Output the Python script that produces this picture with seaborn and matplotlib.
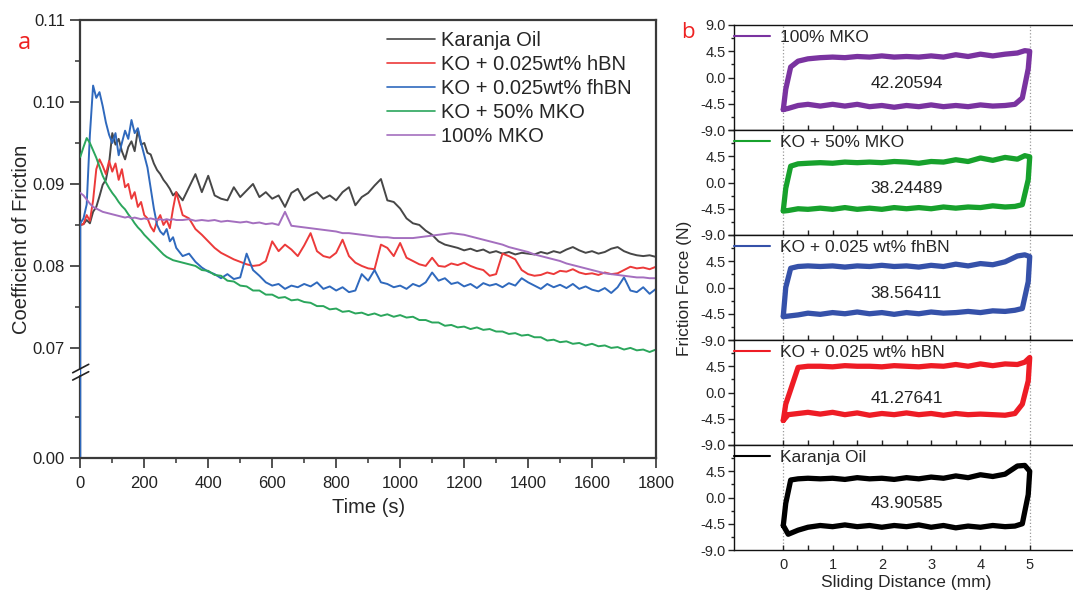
import numpy as np
import pandas as pd
import matplotlib
matplotlib.use("Agg")
import matplotlib.pyplot as plt
import seaborn as sns

# ---------------- Panel a data: coefficient of friction vs time ----------------
time_early = list(range(0, 301, 10))
time_late = list(range(320, 1801, 20))
time_s = time_early + time_late
time_fhbn = [0] + time_s   # fhBN trace starts with the vertical rise from 0 at t = 0

karanja = [
    .0850, .0851, .0856, .0852, .0866, .0872, .0885, .0899, .0905, .0925,
    .0962, .0948, .0955, .0940, .0930, .0945, .0952, .0940, .0966, .0948,
    .0950, .0938, .0936, .0925, .0917, .0912, .0905, .0900, .0894, .0886,
    .0890,
    .0880, .0896, .0912, .0890, .0910, .0886, .0882, .0880, .0896, .0884,
    .0892, .0900, .0884, .0890, .0882, .0886, .0872, .0889, .0894, .0880,
    .0886, .0890, .0882, .0886, .0880, .0890, .0896, .0874, .0884, .0889,
    .0898, .0906, .0880, .0878, .0870, .0858, .0852, .0850, .0843, .0838,
    .0830, .0826, .0824, .0822, .0819, .0821, .0818, .0820, .0816, .0818,
    .0815, .0817, .0814, .0816, .0815, .0814, .0817, .0815, .0818, .0816,
    .0820, .0823, .0819, .0816, .0818, .0815, .0817, .0821, .0823, .0818,
    .0815, .0813, .0812, .0813, .0811,
]
ko_hbn = [
    .0850, .0851, .0862, .0855, .0880, .0918, .0930, .0922, .0912, .0928,
    .0915, .0925, .0905, .0918, .0896, .0900, .0882, .0890, .0872, .0878,
    .0862, .0858, .0848, .0842, .0855, .0862, .0850, .0856, .0846, .0870,
    .0890,
    .0862, .0858, .0845, .0838, .0830, .0822, .0816, .0812, .0808, .0805,
    .0802, .0800, .0801, .0806, .0830, .0818, .0826, .0820, .0812, .0825,
    .0840, .0818, .0812, .0810, .0816, .0832, .0812, .0804, .0800, .0797,
    .0796, .0826, .0822, .0812, .0828, .0810, .0806, .0802, .0800, .0810,
    .0800, .0799, .0803, .0801, .0804, .0800, .0797, .0795, .0788, .0790,
    .0815, .0812, .0808, .0795, .0790, .0788, .0789, .0792, .0790, .0794,
    .0793, .0796, .0792, .0790, .0791, .0789, .0792, .0790, .0791, .0795,
    .0799, .0797, .0798, .0796, .0799,
]
ko_fhbn = [
    .0000,
    .0852, .0858, .0875, .0960, .1020, .1005, .1012, .0995, .0975, .0960,
    .0950, .0962, .0935, .0950, .0965, .0955, .0978, .0962, .0968, .0950,
    .0935, .0920, .0895, .0870, .0850, .0842, .0838, .0845, .0830, .0835,
    .0822,
    .0812, .0815, .0805, .0798, .0793, .0790, .0785, .0790, .0784, .0786,
    .0815, .0795, .0788, .0780, .0776, .0778, .0772, .0776, .0774, .0778,
    .0775, .0780, .0772, .0775, .0770, .0774, .0768, .0770, .0790, .0782,
    .0795, .0780, .0778, .0774, .0776, .0772, .0778, .0775, .0780, .0792,
    .0782, .0785, .0778, .0780, .0775, .0778, .0773, .0779, .0776, .0778,
    .0774, .0779, .0776, .0785, .0780, .0776, .0772, .0778, .0774, .0777,
    .0773, .0778, .0772, .0775, .0771, .0769, .0773, .0767, .0774, .0786,
    .0770, .0768, .0774, .0766, .0772,
]
ko_mko50 = [
    .0933, .0945, .0956, .0950, .0941, .0932, .0921, .0910, .0902, .0895,
    .0889, .0884, .0878, .0873, .0869, .0863, .0858, .0852, .0847, .0843,
    .0838, .0834, .0830, .0826, .0822, .0818, .0814, .0811, .0809, .0807,
    .0806,
    .0804, .0802, .0800, .0795, .0794, .0789, .0788, .0782, .0781, .0776,
    .0775, .0770, .0770, .0765, .0765, .0761, .0762, .0758, .0759, .0756,
    .0755, .0751, .0751, .0747, .0748, .0744, .0745, .0742, .0743, .0740,
    .0742, .0739, .0741, .0738, .0740, .0737, .0738, .0734, .0734, .0731,
    .0731, .0727, .0728, .0725, .0726, .0723, .0725, .0722, .0723, .0720,
    .0720, .0717, .0718, .0715, .0716, .0713, .0713, .0709, .0710, .0707,
    .0708, .0705, .0706, .0703, .0705, .0702, .0703, .0700, .0701, .0698,
    .0700, .0697, .0698, .0695, .0698,
]
mko100 = [
    .0889, .0886, .0881, .0876, .0872, .0870, .0868, .0866, .0865, .0864,
    .0863, .0862, .0861, .0860, .0859, .0860, .0858, .0859, .0858, .0857,
    .0858, .0857, .0858, .0857, .0856, .0857, .0856, .0857, .0856, .0857,
    .0856,
    .0856, .0857, .0855, .0856, .0855, .0856, .0854, .0855, .0854, .0853,
    .0854, .0852, .0853, .0851, .0852, .0850, .0866, .0849, .0848, .0847,
    .0846, .0845, .0844, .0843, .0842, .0840, .0840, .0839, .0838, .0837,
    .0836, .0835, .0835, .0834, .0834, .0834, .0834, .0835, .0836, .0837,
    .0838, .0839, .0840, .0839, .0838, .0836, .0834, .0832, .0830, .0828,
    .0826, .0823, .0821, .0819, .0817, .0814, .0812, .0810, .0808, .0806,
    .0803, .0801, .0799, .0797, .0795, .0793, .0791, .0790, .0789, .0788,
    .0787, .0786, .0786, .0785, .0785,
]
series_names = ["Karanja Oil", "KO + 0.025wt% hBN", "KO + 0.025wt% fhBN",
                "KO + 50% MKO", "100% MKO"]
series_times = [time_s, time_s, time_fhbn, time_s, time_s]
series_values = [karanja, ko_hbn, ko_fhbn, ko_mko50, mko100]
series_colors = ["#474747", "#ec3a3a", "#2f69bd", "#2ba65c", "#a46fbf"]

yticks_a = [0.00, 0.07, 0.08, 0.09, 0.10, 0.11]
ytick_labels_a = ["0.00", "0.07", "0.08", "0.09", "0.10", "0.11"]
xticks_a = list(range(0, 1801, 200))

# ---------------- Panel b data: friction force loops ----------------
dist_mm = [0.0, 0.05, 0.15, 0.3, 0.5, 0.75, 1.0, 1.25, 1.5, 1.75, 2.0, 2.25,
           2.5, 2.75, 3.0, 3.25, 3.5, 3.75, 4.0, 4.25, 4.5, 4.75, 4.9, 5.0,
           4.97, 4.85, 4.7, 4.5, 4.25, 4.0, 3.75, 3.5, 3.25, 3.0, 2.75, 2.5,
           2.25, 2.0, 1.75, 1.5, 1.25, 1.0, 0.75, 0.5, 0.3, 0.1, 0.0]
force_mko100 = [-5.5, -2.0, 1.8, 2.8, 3.2, 3.4, 3.5, 3.4, 3.6, 3.5, 3.7, 3.5,
                3.6, 3.5, 3.7, 3.5, 3.9, 3.6, 4.0, 3.7, 4.0, 4.2, 4.6, 4.5,
                1.5, -3.5, -4.6, -4.8, -4.9, -4.7, -5.0, -4.8, -5.0, -4.7, -5.0, -4.8,
                -5.1, -4.8, -5.0, -4.6, -4.9, -4.6, -4.9, -4.6, -4.8, -5.3, -5.5]
force_mko50 = [-4.8, -1.0, 2.8, 3.2, 3.3, 3.4, 3.3, 3.5, 3.4, 3.5, 3.4, 3.6,
               3.5, 3.3, 3.6, 3.5, 3.9, 3.6, 4.2, 3.8, 4.3, 4.0, 4.6, 4.4,
               0.5, -3.8, -4.1, -4.2, -4.0, -4.3, -4.2, -4.4, -4.2, -4.5, -4.3, -4.5,
               -4.3, -4.6, -4.4, -4.6, -4.3, -4.6, -4.4, -4.6, -4.5, -4.8, -4.9]
force_fhbn = [-4.9, 0.0, 3.3, 3.6, 3.7, 3.6, 3.7, 3.5, 3.7, 3.6, 3.8, 3.6,
              3.7, 3.5, 3.8, 3.6, 4.0, 3.7, 4.1, 3.9, 4.4, 5.4, 5.6, 5.3,
              1.0, -3.6, -3.9, -4.1, -4.0, -4.3, -4.1, -4.3, -4.4, -4.2, -4.5, -4.3,
              -4.6, -4.3, -4.5, -4.2, -4.5, -4.3, -4.6, -4.4, -4.7, -4.9, -5.0]
force_hbn = [-4.8, -2.0, 0.5, 4.3, 4.5, 4.5, 4.4, 4.6, 4.5, 4.5, 4.4, 4.6,
             4.5, 4.4, 4.6, 4.5, 4.8, 4.5, 4.9, 4.6, 4.9, 4.8, 5.2, 6.0,
             2.0, -2.0, -3.6, -3.9, -3.8, -3.7, -3.8, -3.6, -3.9, -3.6, -3.8, -3.5,
             -3.8, -3.6, -3.9, -3.5, -3.8, -3.4, -3.7, -3.4, -3.6, -3.8, -4.8]
force_karanja = [-4.8, -1.0, 3.0, 3.2, 3.3, 3.2, 3.3, 3.1, 3.4, 3.2, 3.3, 3.1,
                 3.4, 3.2, 3.5, 3.3, 3.7, 3.4, 3.9, 3.6, 4.0, 5.4, 5.5, 4.5,
                 0.5, -4.5, -4.9, -5.0, -4.8, -5.1, -4.9, -5.2, -4.8, -5.1, -4.7, -5.0,
                 -4.8, -5.1, -4.8, -5.0, -4.7, -5.0, -4.8, -5.1, -5.6, -6.3, -4.8]
loop_names = ["100% MKO", "KO + 50% MKO", "KO + 0.025 wt% fhBN",
              "KO + 0.025 wt% hBN", "Karanja Oil"]
loop_forces = [force_mko100, force_mko50, force_fhbn, force_hbn, force_karanja]
loop_areas = ["42.20594", "38.24489", "38.56411", "41.27641", "43.90585"]
loop_colors = ["#7a33a0", "#17a12c", "#3551a9", "#ee1c25", "#000000"]
yticks_b = [-9.0, -4.5, 0.0, 4.5, 9.0]
xticks_b = [0, 1, 2, 3, 4, 5]

# ---------------- Style ----------------
sns.set_theme(style="ticks")
plt.rcParams["font.family"] = ["Liberation Sans", "DejaVu Sans"]
plt.rcParams["axes.unicode_minus"] = False

W, H = 1073, 597
fig = plt.figure(figsize=(W / 100, H / 100), dpi=100)

def fbox(left, top, width, height):
    return [left / W, (H - top - height) / H, width / W, height / H]

# ---------------- Panel a ----------------
axa = fig.add_axes(fbox(80.3, 20, 575.7, 438))
df = pd.DataFrame({
    "Time (s)": sum(series_times, []),
    "COF": sum(series_values, []),
    "Sample": sum([[n] * len(t) for n, t in zip(series_names, series_times)], []),
})
sns.lineplot(data=df, x="Time (s)", y="COF", hue="Sample", hue_order=series_names,
             palette=dict(zip(series_names, series_colors)), estimator=None,
             sort=False, linewidth=1.4, ax=axa)

# broken y axis implemented as piecewise-linear scale
brk_v = [-1.0, 0.0, 0.0205, 0.06707, 0.11, 1.0]
brk_p = [-4100.0, 0.0, 84.05, 86.0, 437.6, 437.6 + 0.89 * 8190]
fwd = lambda y: np.interp(y, brk_v, brk_p)
inv = lambda p: np.interp(p, brk_p, brk_v)
axa.set_yscale("function", functions=(fwd, inv))
axa.set_ylim(0, 0.11)
axa.set_xlim(0, 1800)
axa.set_yticks(yticks_a)
axa.set_yticklabels(ytick_labels_a)
axa.set_yticks([0.01, 0.075, 0.085, 0.095, 0.105], minor=True)
axa.set_xticks(xticks_a)
axa.set_xticks(list(range(100, 1800, 200)), minor=True)
axa.tick_params(axis="both", which="major", direction="out", length=7, width=1.2,
                labelsize=12, color="#333333", labelcolor="#222222", pad=4)
axa.tick_params(axis="x", which="major", pad=6)
axa.tick_params(axis="both", which="minor", direction="out", length=3.5, width=1.1,
                color="#333333")
for s in ["top", "right", "bottom"]:
    axa.spines[s].set_color("#3a3a3a")
    axa.spines[s].set_linewidth(1.6)
axa.spines["left"].set_visible(False)
# left spine in two pieces with break marks
axa.plot([0, 0], [0, 0.187], transform=axa.transAxes, color="#3a3a3a", lw=1.6,
         clip_on=False, zorder=1)
axa.plot([0, 0], [0.204, 1], transform=axa.transAxes, color="#3a3a3a", lw=1.6,
         clip_on=False, zorder=1)
for y0, y1 in [(0.1947, 0.2139), (0.178, 0.197)]:
    axa.plot([-0.0132, 0.0146], [y0, y1], transform=axa.transAxes, color="#222222",
             lw=1.2, clip_on=False, zorder=6)

axa.set_xlabel("Time (s)", fontsize=14.5, labelpad=5)
axa.set_ylabel("Coefficient of Friction", fontsize=14.5, labelpad=1)

handles, labels = axa.get_legend_handles_labels()
leg = axa.legend(handles, labels, loc="upper left", bbox_to_anchor=(0.5327, 0.975),
                 frameon=False, borderpad=0, borderaxespad=0, fontsize=14.5,
                 handlelength=2.4, handletextpad=0.3, labelspacing=0.25)
for ln in leg.get_lines():
    ln.set_linewidth(1.2)

fig.text(24 / W, 1 - 43 / H, "a", color="#ee2222", fontsize=17,
         family=["Open Sans", "DejaVu Sans"], ha="center", va="center")

# ---------------- Panel b ----------------
for i, (name, force, area, col) in enumerate(zip(loop_names, loop_forces,
                                                   loop_areas, loop_colors)):
    ax = fig.add_axes(fbox(734, 25 + i * 105, 345, 105))
    ax.axvline(0, color="#9a9a9a", ls=":", lw=0.9, zorder=0)
    ax.axvline(5, color="#9a9a9a", ls=":", lw=0.9, zorder=0)
    sns.lineplot(x=dist_mm, y=force, sort=False, estimator=None, color=col,
                 linewidth=3.8, label=name, ax=ax)
    ax.set_xlim(-1, 6)
    ax.set_ylim(-9, 9)
    ax.set_yticks(yticks_b)
    ax.set_yticklabels([("" if (i > 0 and v == 9.0) else f"{v:.1f}") for v in yticks_b])
    ax.set_yticks([-6.75, -2.25, 2.25, 6.75], minor=True)
    ax.set_xticks(xticks_b)
    ax.set_xticks([0.5, 1.5, 2.5, 3.5, 4.5], minor=True)
    ax.tick_params(axis="y", which="major", direction="out", length=4, width=1,
                   labelsize=10.5, color="#222222", pad=2)
    ax.tick_params(axis="y", which="minor", direction="out", length=2.5, width=1,
                   color="#222222")
    ax.tick_params(axis="x", which="both", direction="in", length=3.5, width=1,
                   color="#222222", labelsize=10.5, labelbottom=(i == 4), pad=6)
    for s in ax.spines.values():
        s.set_color("#111111")
        s.set_linewidth(1.0)
    ax.text(2.5, -1.0, area, ha="center", va="center", fontsize=12.5, color="#222222")
    lg = ax.legend(loc="upper left", bbox_to_anchor=(0, 0.95), frameon=False,
                   borderpad=0, borderaxespad=0, fontsize=12.5, handlelength=2.1,
                   handletextpad=0.55)
    for ln in lg.get_lines():
        ln.set_linewidth(1.5)
    ax.set_xlabel("")
    ax.set_ylabel("")
    if i == 4:
        ax.set_xlabel("Sliding Distance (mm)", fontsize=12.5, labelpad=2)

fig.text(685 / W, 1 - 288 / H, "Friction Force (N)", rotation=90, ha="center",
         va="center", fontsize=12.5)
fig.text(688 / W, 1 - 32 / H, "b", color="#ee2222", fontsize=16,
         family=["Open Sans", "DejaVu Sans"], ha="center", va="center")

fig.savefig("out.png", dpi=100)
